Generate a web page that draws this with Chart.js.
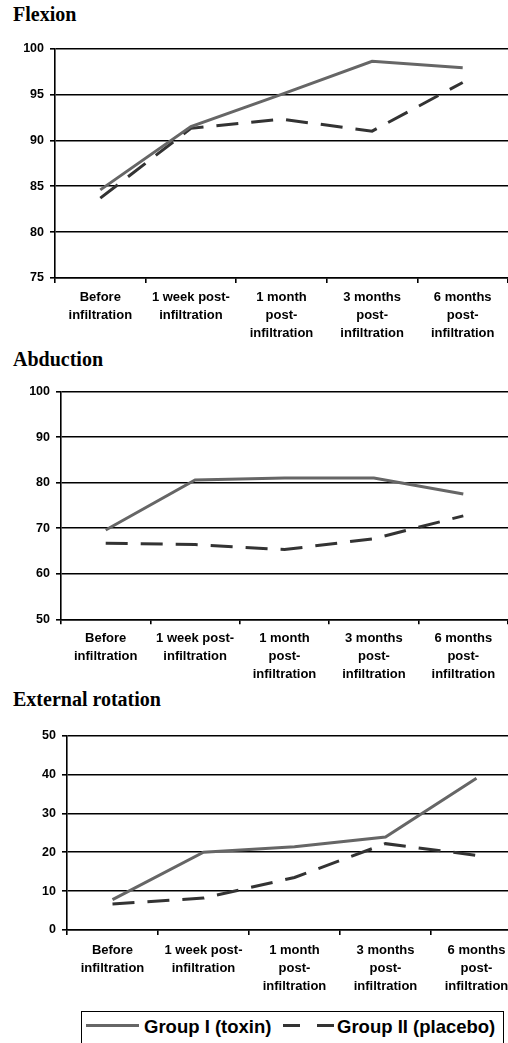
<!DOCTYPE html>
<html>
<head>
<meta charset="utf-8">
<script src="https://cdn.jsdelivr.net/npm/chart.js@4.4.1/dist/chart.umd.min.js"></script>
<style>
    html, body { margin: 0; padding: 0; background: #fff; overflow: hidden; }
    body { position: relative; width: 508px; height: 1043px; }
    .title {
        position: absolute; left: 13px;
        font-family: "Liberation Serif", "Times New Roman", serif;
        font-weight: bold; font-size: 20px; line-height: 20px; color: #000;
    }
    canvas { position: absolute; left: 0; }
    .legend {
        position: absolute; left: 81px; top: 1011px; width: 423px; height: 60px;
        border: 1.5px solid #000; box-sizing: border-box;
        font-family: "Liberation Sans", Arial, sans-serif; font-weight: bold;
        font-size: 18.5px; color: #000;
    }
    .legend svg { position: absolute; left: 0; top: 0; }
    .legend span { position: absolute; top: 4px; line-height: 22px; white-space: nowrap; }
</style>
</head>
<body>
<div class="title" style="top:4px">Flexion</div>
<canvas id="flexion" width="508" height="310" style="top:35px"></canvas>

<div class="title" style="top:349px">Abduction</div>
<canvas id="abduction" width="508" height="310" style="top:378px"></canvas>

<div class="title" style="top:689px">External rotation</div>
<canvas id="rotation" width="530" height="285" style="top:722px"></canvas>

<div class="legend">
    <svg width="423" height="40">
        <line x1="4" y1="13.5" x2="57" y2="13.5" stroke="#666" stroke-width="3"/>
        <line x1="201" y1="13.5" x2="252" y2="13.5" stroke="#333" stroke-width="3" stroke-dasharray="17 17"/>
    </svg>
    <span style="left:62px">Group I (toxin)</span>
    <span style="left:255px">Group II (placebo)</span>
</div>

<script>
// Time points (x categories)
const categories = [
    ['Before', 'infiltration'],
    ['1 week post-', 'infiltration'],
    ['1 month', 'post-', 'infiltration'],
    ['3 months', 'post-', 'infiltration'],
    ['6 months', 'post-', 'infiltration']
];

// Flexion
const flexionToxin = [84.6, 91.5, 95.0, 98.6, 97.9];
const flexionPlacebo = [83.7, 91.3, 92.3, 91.0, 96.3];
const flexionTicks = [75, 80, 85, 90, 95, 100];

// Abduction
const abductionToxin = [69.6, 80.6, 81.0, 81.0, 77.5];
const abductionPlacebo = [66.7, 66.4, 65.3, 67.7, 72.7];
const abductionTicks = [50, 60, 70, 80, 90, 100];

// External rotation
const rotationToxin = [7.8, 20.0, 21.4, 23.9, 39.0];
const rotationPlacebo = [6.7, 8.2, 13.5, 22.2, 19.2];
const rotationTicks = [0, 10, 20, 30, 40, 50];

const seriesNames = ['Group I (toxin)', 'Group II (placebo)'];

function makeChart(id, toxin, placebo, ticks, box) {
    const ctx = document.getElementById(id).getContext('2d');
    const tickFont = { family: '"Liberation Sans", Arial, sans-serif', weight: 'bold', size: 12.5 };

    return new Chart(ctx, {
        type: 'line',
        data: {
            labels: categories,
            datasets: [{
                label: seriesNames[0],
                data: toxin,
                borderColor: '#666666',
                borderWidth: 3,
                pointRadius: 0,
                tension: 0,
                fill: false
            }, {
                label: seriesNames[1],
                data: placebo,
                borderColor: '#333333',
                borderWidth: 3,
                borderDash: [22, 13],
                pointRadius: 0,
                tension: 0,
                fill: false
            }]
        },
        options: {
            responsive: false,
            animation: false,
            layout: { padding: { top: box.top, right: box.right || 0, left: 0, bottom: 0 } },
            plugins: {
                legend: { display: false },
                tooltip: { enabled: false }
            },
            scales: {
                x: {
                    offset: true,
                    grid: {
                        offset: true,
                        drawOnChartArea: false,
                        drawTicks: true,
                        tickLength: 5,
                        color: '#000',
                        lineWidth: 1.6
                    },
                    border: { color: '#000', width: 1.6 },
                    ticks: {
                        color: '#000',
                        font: { ...tickFont, size: 13, lineHeight: 18 / 13 },
                        padding: box.xPad,
                        maxRotation: 0,
                        autoSkip: false
                    },
                    afterFit: scale => { scale.height = box.xHeight; }
                },
                y: {
                    min: ticks[0],
                    max: ticks[ticks.length - 1],
                    afterBuildTicks: scale => { scale.ticks = ticks.map(v => ({ value: v })); },
                    grid: {
                        color: '#000',
                        lineWidth: 1.6,
                        drawTicks: true,
                        tickLength: 5
                    },
                    border: { color: '#000', width: 1.6 },
                    ticks: {
                        color: '#000',
                        font: tickFont,
                        padding: 6
                    },
                    afterFit: scale => { scale.width = box.yWidth; }
                }
            }
        }
    });
}

makeChart('flexion', flexionToxin, flexionPlacebo, flexionTicks,
    { top: 8, yWidth: 55, xHeight: 67, xPad: 5 });
makeChart('abduction', abductionToxin, abductionPlacebo, abductionTicks,
    { top: 9.3, yWidth: 61, xHeight: 68.7, xPad: 5.5 });
makeChart('rotation', rotationToxin, rotationPlacebo, rotationTicks,
    { top: 8, right: 8, yWidth: 67, xHeight: 77, xPad: 6 });
</script>
</body>
</html>
